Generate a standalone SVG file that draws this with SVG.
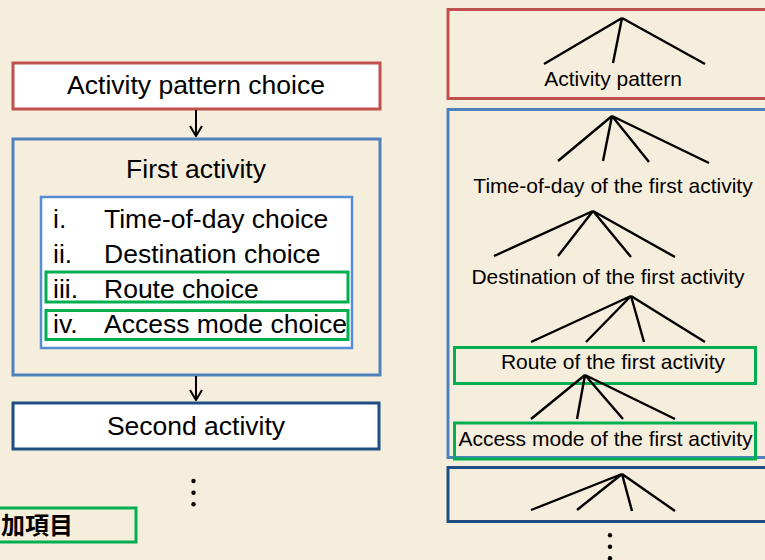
<svg xmlns="http://www.w3.org/2000/svg" width="765" height="560" viewBox="0 0 765 560">
<style>
.t{font-family:"Liberation Sans",Arial,sans-serif;fill:#000}
.l{font-size:26.5px}
.r{font-size:21px}
.c{text-anchor:middle}
.red{fill:none;stroke:#C0504D;stroke-width:3}
.blue{fill:none;stroke:#4F81BD;stroke-width:3}
.lblue{fill:#fff;stroke:#558ED5;stroke-width:2.5}
.dblue{fill:none;stroke:#1F4E82;stroke-width:3}
.green{fill:none;stroke:#00B050;stroke-width:3}
.ln{stroke:#000;stroke-width:2.4;fill:none;stroke-linecap:butt}
.ar{stroke:#000;stroke-width:2;fill:none}
.dot{fill:#000}
</style>
<defs>
<marker id="arr" markerUnits="userSpaceOnUse" viewBox="0 0 12 14" refX="11" refY="7" markerWidth="12" markerHeight="14" orient="auto">
<path d="M1,1 L11,7 L1,13" fill="none" stroke="#000" stroke-width="2"/>
</marker>
</defs>
<rect width="765" height="560" fill="#F6EEDC"/>

<g id="activity-pattern-choice">
<rect x="13" y="63" width="367" height="46" class="red" style="fill:#fff"/>
<text x="196" y="94" class="t l c">Activity pattern choice</text>
</g>

<g id="first-activity">
<rect x="13" y="139" width="367" height="236" class="blue"/>
<text x="196" y="178" class="t l c">First activity</text>
<rect x="41" y="197" width="311" height="151" class="lblue"/>
<g id="list">
<text x="53" y="228" class="t l">i.</text>
<text x="104" y="228" class="t l">Time-of-day choice</text>
<text x="53" y="263" class="t l">ii.</text>
<text x="104" y="263" class="t l">Destination choice</text>
<text x="53" y="298" class="t l">iii.</text>
<text x="104" y="298" class="t l">Route choice</text>
<text x="53" y="333" class="t l">iv.</text>
<text x="104" y="333" class="t l">Access mode choice</text>
</g>
<rect x="46" y="272" width="302" height="30" class="green"/>
<rect x="46" y="310.5" width="302" height="29" class="green"/>
</g>

<g id="second-activity">
<rect x="13" y="403" width="366" height="46" class="dblue" style="fill:#fff"/>
<text x="196" y="435" class="t l c">Second activity</text>
</g>

<g id="left-dots">
<circle cx="193.5" cy="481" r="2.2" class="dot"/>
<circle cx="193.5" cy="492.7" r="2.2" class="dot"/>
<circle cx="193.5" cy="504.3" r="2.2" class="dot"/>
</g>

<g id="legend">
<rect x="-5" y="508" width="141" height="34" class="green"/>
<text x="1" y="534" style="font-family:'Noto Sans CJK JP','Noto Sans CJK SC',sans-serif;font-size:24px;font-weight:bold">加項目</text>
</g>

<g id="activity-pattern">
<rect x="448" y="9.5" width="330" height="89" class="red"/>
<text x="613" y="86" class="t r c">Activity pattern</text>
</g>

<g id="first-activity-tree">
<rect x="448" y="109.5" width="330" height="348" class="blue"/>
<text x="613" y="193" class="t r c">Time-of-day of the first activity</text>
<text x="608" y="284" class="t r c">Destination of the first activity</text>
<g id="route-node">
<rect x="454.5" y="347.5" width="301" height="36" class="green"/>
<text x="613" y="369" class="t r c">Route of the first activity</text>
</g>
<g id="access-node">
<rect x="454.5" y="423" width="301" height="36" class="green"/>
<text x="605.5" y="446" class="t r c">Access mode of the first activity</text>
</g>
</g>

<g id="second-activity-tree">
<rect x="448" y="467.5" width="330" height="54" class="dblue"/>
</g>

<g id="right-dots">
<circle cx="610" cy="535.3" r="2.2" class="dot"/>
<circle cx="610" cy="546.7" r="2.2" class="dot"/>
<circle cx="610" cy="558.3" r="2.2" class="dot"/>
</g>

<g id="connectors">
<line x1="196" y1="110" x2="196" y2="136" class="ar" marker-end="url(#arr)"/>
<line x1="196" y1="376" x2="196" y2="400" class="ar" marker-end="url(#arr)"/>
<path class="ln" d="M622,18 L544,64 M622,18 L613,63 M622,18 L705,64"/>
<path class="ln" d="M612,116 L558,161 M612,116 L603,161 M612,116 L649,162 M612,116 L709,163"/>
<path class="ln" d="M593,211 L494,256 M593,211 L558,256 M593,211 L631,257 M593,211 L675,257"/>
<path class="ln" d="M631,296 L531,342 M631,296 L586,342 M631,296 L644,342 M631,296 L705,342"/>
<path class="ln" d="M585,375 L531,419 M585,375 L577,419 M585,375 L623,419 M585,375 L675,419"/>
<path class="ln" d="M622,474 L531,510 M622,474 L577,510 M622,474 L632,511 M622,474 L675,511"/>
</g>
</svg>
